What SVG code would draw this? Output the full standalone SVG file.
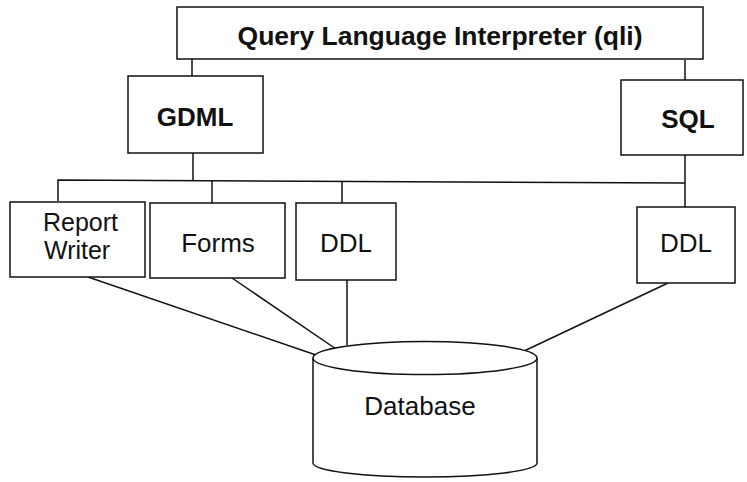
<svg xmlns="http://www.w3.org/2000/svg" width="747" height="482" viewBox="0 0 747 482">
<style>
.box{fill:#fff;stroke:#111;stroke-width:1.5}
.ln{fill:none;stroke:#111;stroke-width:1.5}
.t{font-family:"Liberation Sans",Arial,Helvetica,sans-serif;font-size:26px;fill:#111;text-anchor:middle}
.b{font-weight:bold}
</style>
<rect width="747" height="482" fill="#fff"/>
<g id="connectors">
<line class="ln" x1="192" y1="58" x2="192" y2="76"/>
<line class="ln" x1="685" y1="60" x2="685" y2="80"/>
<line class="ln" x1="193" y1="153" x2="193" y2="181"/>
<line class="ln" x1="685" y1="155" x2="685" y2="207"/>
<polyline class="ln" points="58,201 58,180 685,183"/>
<line class="ln" x1="212" y1="181" x2="212" y2="203"/>
<line class="ln" x1="342" y1="182" x2="342" y2="203"/>
<line class="ln" x1="88" y1="277" x2="316" y2="355"/>
<line class="ln" x1="232" y1="278" x2="336" y2="349"/>
<line class="ln" x1="347" y1="280" x2="347" y2="345"/>
<line class="ln" x1="668" y1="283" x2="522" y2="352"/>
</g>
<g id="qli">
<rect class="box" x="177" y="7" width="526" height="52"/>
<text class="t b" x="440" y="45" style="font-size:26.5px">Query Language Interpreter (qli)</text>
</g>
<g id="gdml">
<rect class="box" x="128" y="76" width="135" height="77"/>
<text class="t b" x="195" y="126">GDML</text>
</g>
<g id="sql">
<rect class="box" x="621" y="80" width="122" height="75"/>
<text class="t b" x="688" y="128">SQL</text>
</g>
<g id="report-writer">
<rect class="box" x="10" y="202" width="135" height="75"/>
<text class="t" x="43" y="231" style="text-anchor:start;font-size:25px">Report</text>
<text class="t" x="44" y="259" style="text-anchor:start;font-size:25px">Writer</text>
</g>
<g id="forms">
<rect class="box" x="150" y="203" width="135" height="75"/>
<text class="t" x="218" y="252">Forms</text>
</g>
<g id="ddl-gdml">
<rect class="box" x="296" y="203" width="100" height="77"/>
<text class="t" x="346" y="252">DDL</text>
</g>
<g id="ddl-sql">
<rect class="box" x="637" y="207" width="98" height="76"/>
<text class="t" x="686" y="252">DDL</text>
</g>
<g id="database">
<path class="box" d="M313,358 L313,463 A112,14 0 0 0 537,463 L537,358"/>
<ellipse class="box" cx="425" cy="358" rx="112" ry="16.5"/>
<text class="t" x="420" y="415">Database</text>
</g>
</svg>
